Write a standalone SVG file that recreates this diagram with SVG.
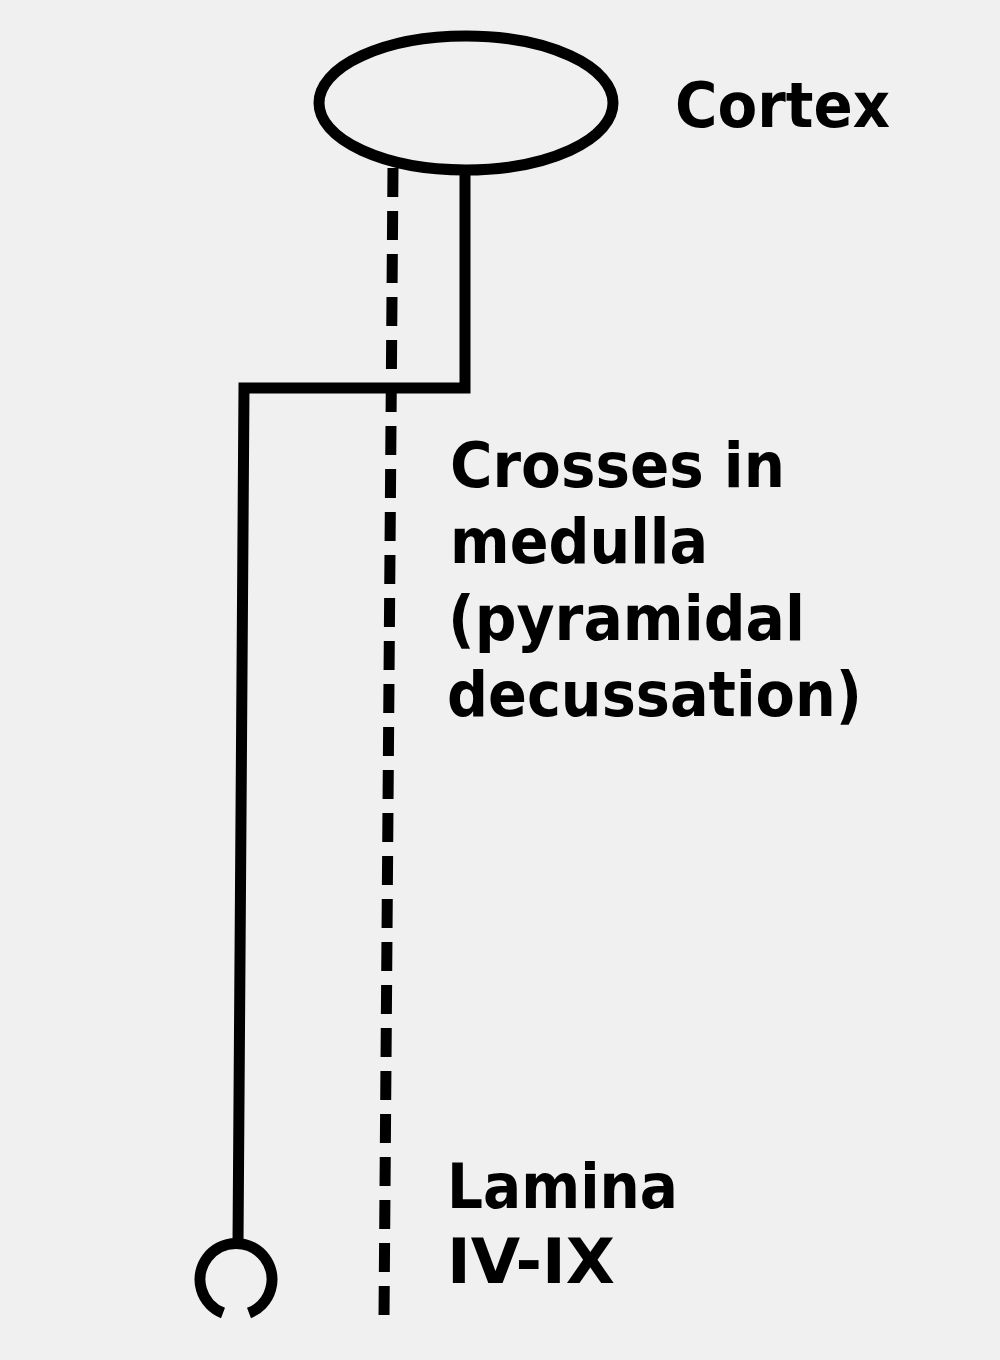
<svg xmlns="http://www.w3.org/2000/svg" width="1000" height="1360" viewBox="0 0 1000 1360">
<style>
.ln{fill:none;stroke:#000;stroke-width:11;}
.lbl{font-family:"DejaVu Sans","Verdana",sans-serif;font-weight:bold;font-size:62px;fill:#000;}
</style>
<rect x="0" y="0" width="1000" height="1360" fill="#f0f0f0"/>
<g id="cortex">
<ellipse class="ln" cx="466" cy="103" rx="147" ry="67" stroke-width="10"/>
<text class="lbl" x="675" y="127" textLength="215" lengthAdjust="spacingAndGlyphs">Cortex</text>
</g>
<g id="connectors">
<polyline class="ln" points="465,172 465,388 244,388 238,1243" stroke-linejoin="miter"/>
<line class="ln" x1="393" y1="168" x2="384" y2="1318" stroke-dasharray="29 14"/>
</g>
<g id="lamina">
<path class="ln" d="M223,1313 A36,36 0 1 1 249,1313"/>
<text class="lbl" x="447" y="1208" textLength="231" lengthAdjust="spacingAndGlyphs">Lamina</text>
<text class="lbl" x="447" y="1283" textLength="168" lengthAdjust="spacingAndGlyphs">IV-IX</text>
</g>
<g id="decussation">
<text class="lbl" x="450" y="487" textLength="335" lengthAdjust="spacingAndGlyphs">Crosses in</text>
<text class="lbl" x="450" y="563" textLength="258" lengthAdjust="spacingAndGlyphs">medulla</text>
<text class="lbl" x="448" y="640" textLength="357" lengthAdjust="spacingAndGlyphs">(pyramidal</text>
<text class="lbl" x="447" y="716" textLength="415" lengthAdjust="spacingAndGlyphs">decussation)</text>
</g>
</svg>
